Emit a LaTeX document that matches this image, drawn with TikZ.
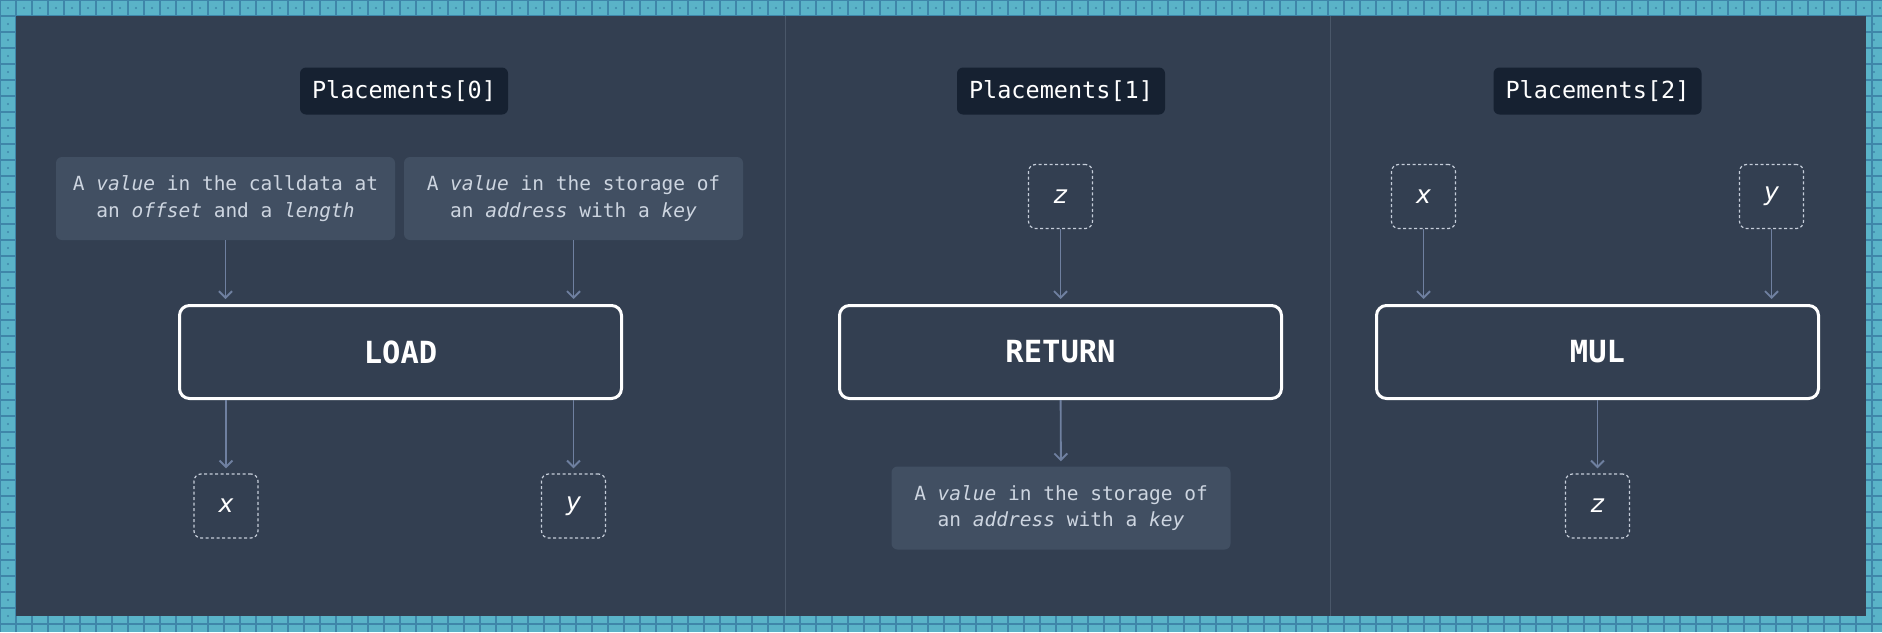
\documentclass[tikz,border=0pt]{standalone}
\usepackage{fontspec}
\setmainfont{DejaVu Sans}
\setsansfont{DejaVu Sans}
\setmonofont{DejaVu Sans Mono}
\usepackage{tikz}
\usetikzlibrary{arrows.meta}

\definecolor{tilebg}{HTML}{5AB3C8}
\definecolor{tileline}{HTML}{3F86A9}
\definecolor{panelbg}{HTML}{333F51}
\definecolor{headbg}{HTML}{162131}
\definecolor{notebg}{HTML}{414F62}
\definecolor{notefg}{HTML}{CDD5E0}
\definecolor{flowcol}{HTML}{6F80A0}
\definecolor{rulecol}{HTML}{4A5769}
\definecolor{varcol}{HTML}{C5CDD9}

\tikzset{
    header/.style={fill=headbg, text=white, rounded corners=6pt, minimum width=208pt,
        minimum height=47pt, inner sep=0pt, font=\fontsize{23.5}{28}\selectfont\ttfamily},
    note/.style={fill=notebg, text=notefg, rounded corners=6pt, minimum width=339pt,
        minimum height=83pt, align=center, font=\fontsize{19.5}{26.7}\selectfont\ttfamily},
    op/.style={draw=white, line width=3pt, rounded corners=10pt, minimum width=442pt,
        minimum height=93pt, text=white, font=\fontsize{30.5}{36}\selectfont\ttfamily\bfseries},
    var/.style={draw=varcol, dash pattern=on 3pt off 2.5pt, line width=1.2pt, rounded corners=7pt,
        minimum size=64pt, inner sep=0pt, text=white, font=\fontsize{25}{30}\selectfont\sffamily\itshape},
    flow/.style={draw=flowcol, line width=1.9pt, -{Straight Barb[length=6.5pt,width=13pt]}, shorten >=5pt},
}

\begin{document}
\begin{tikzpicture}[x=1pt,y=-1pt]
    \useasboundingbox (0,0) rectangle (1882,632);
    % tiled frame
    \fill[tilebg] (0,0) rectangle (1882,632);
    \draw[tileline, line width=1.2pt, step=16pt] (0,0) grid (1882,632);
    \foreach \x in {8,24,...,1880}
        {\fill[tileline] (\x,8) circle (1.2pt); \fill[tileline] (\x,624) circle (1.2pt);}
    \foreach \y in {24,40,...,616}
        {\fill[tileline] (8,\y) circle (1.2pt); \fill[tileline] (1874,\y) circle (1.2pt);}
    \fill[panelbg] (16,16) rectangle (1866,616);
    \draw[rulecol, line width=1pt] (785,16) -- (785,616);
    \draw[rulecol, line width=1pt] (1330,16) -- (1330,616);

    % Placements[0]
    \node[header] (hd0) at (404,91) {Placements[0]};
    \node[note] (ld0) at (225.5,198.5) {A \textit{value} in the calldata at\\an \textit{offset} and a \textit{length}};
    \node[note] (ld1) at (573.5,198.5) {A \textit{value} in the storage of\\an \textit{address} with a \textit{key}};
    \node[op] (load) at (400.5,352) {LOAD};
    \node[var] (lx) at (226,506) {x};
    \node[var] (ly) at (573.5,506) {y};
    \draw[flow] (ld0) -- (ld0 |- load.north);
    \draw[flow] (ld1) -- (ld1 |- load.north);
    \draw[flow] (load.south -| lx) -- (lx);
    \draw[flow] (load.south -| ly) -- (ly);

    % Placements[1]
    \node[header] (hd1) at (1061,91) {Placements[1]};
    \node[var] (rz) at (1060.5,196.5) {z};
    \node[op] (ret) at (1060.5,352) {RETURN};
    \node[note] (rd) at (1061,508) {A \textit{value} in the storage of\\an \textit{address} with a \textit{key}};
    \draw[flow] (rz) -- (ret);
    \draw[flow] (ret) -- (rd);

    % Placements[2]
    \node[header] (hd2) at (1597.5,91) {Placements[2]};
    \node[var] (mx) at (1423.5,196.5) {x};
    \node[var] (my) at (1771.5,196.5) {y};
    \node[op] (mul) at (1597.5,352) {MUL};
    \node[var] (mz) at (1597.5,506) {z};
    \draw[flow] (mx) -- (mx |- mul.north);
    \draw[flow] (my) -- (my |- mul.north);
    \draw[flow] (mul) -- (mz);
\end{tikzpicture}
\end{document}
